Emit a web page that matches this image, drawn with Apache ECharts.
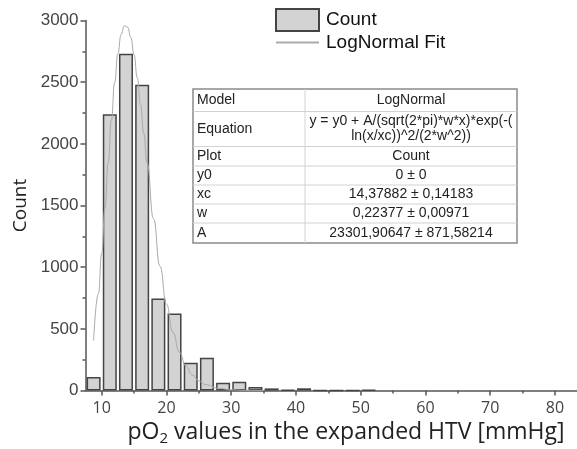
<!DOCTYPE html>
<html><head><meta charset="utf-8">
<script src="https://cdn.jsdelivr.net/npm/echarts@6/dist/echarts.min.js"></script>
<style>html,body{margin:0;padding:0;background:#fff}#c{width:577px;height:449px}</style>
</head><body><div id="c"></div>
<script>
// ---- data ----
const binCenters = [8.75, 11.25, 13.75, 16.25, 18.75, 21.25, 23.75, 26.25, 28.75, 31.25, 33.75, 36.25, 38.75, 41.25, 43.75, 46.25, 48.75, 51.25];
const counts     = [110, 2240, 2730, 2480, 745, 625, 225, 265, 62, 70, 28, 17, 6, 18, 0, 0, 0, 5];
const fitX = [8.75, 9.5, 10, 10.5, 11, 11.5, 12, 12.5, 13, 13.5, 14, 14.5, 15, 15.5, 16, 16.5, 17, 18, 19, 20, 21, 22, 23, 24, 25, 26, 28, 30, 32, 35];
const fitY = [404, 786, 1113, 1475, 1845, 2195, 2497, 2732, 2887, 2957, 2946, 2863, 2721, 2534, 2317, 2084, 1847, 1394, 1007, 700, 472, 310, 199, 126, 78, 48, 18, 6, 2, 0];
const xMajorTicks = [10, 20, 30, 40, 50, 60, 70, 80];
const xMinorTicks = [15, 25, 35, 45, 55, 65, 75];
const seriesNames = ['Count', 'LogNormal Fit'];
const xTitleParts = ['pO', '2', ' values in the expanded HTV [mmHg]'];
const yTitle = 'Count';
const tableLabels = ['Model', 'Equation', 'Plot', 'y0', 'xc', 'w', 'A'];
const tableValues = ['LogNormal', 'y = y0 + A/(sqrt(2*pi)*w*x)*exp(-(\nln(x/xc))^2/(2*w^2))', 'Count', '0 ± 0', '14,37882 ± 0,14183', '0,22377 ± 0,00971', '23301,90647 ± 871,58214'];

// ---- layout / style ----
const axisColor = '#555';
const T = { left: 193, right: 517, mid: 305, rows: [89, 111.5, 146.5, 166, 185, 204, 223, 243] };
const graphics = [];
graphics.push({ type: 'rect', shape: { x: T.left, y: T.rows[0], width: T.right - T.left, height: T.rows[T.rows.length - 1] - T.rows[0] },
  style: { fill: '#fff', stroke: '#8a8a8a', lineWidth: 1.5 }, z: 10 });
for (let i = 1; i < T.rows.length - 1; i++) {
  graphics.push({ type: 'line', shape: { x1: T.left, y1: T.rows[i], x2: T.right, y2: T.rows[i] }, style: { stroke: '#d2d2d2', lineWidth: 1 }, z: 11 });
}
graphics.push({ type: 'line', shape: { x1: T.mid, y1: T.rows[0], x2: T.mid, y2: T.rows[T.rows.length - 1] }, style: { stroke: '#d2d2d2', lineWidth: 1 }, z: 11 });
tableLabels.forEach((lab, i) => {
  const yc = (T.rows[i] + T.rows[i + 1]) / 2;
  graphics.push({ type: 'text', x: T.left + 4, y: yc, z: 12,
    style: { text: lab, fill: '#222', font: '14px "Liberation Sans", Arial', align: 'left', verticalAlign: 'middle' } });
  graphics.push({ type: 'text', x: (T.mid + T.right) / 2, y: yc, z: 12,
    style: { text: tableValues[i], fill: '#222', font: '14px "Liberation Sans", Arial', align: 'center', verticalAlign: 'middle', lineHeight: 15 } });
});
graphics.push({ type: 'text', x: 346, y: 432, z: 12,
  style: { text: '{a|' + xTitleParts[0] + '}{s|' + xTitleParts[1] + '}{a|' + xTitleParts[2] + '}', align: 'center', verticalAlign: 'middle',
    rich: { a: { fontSize: 23, fontFamily: 'Open Sans', fill: '#222', lineHeight: 28 },
            s: { fontSize: 15, fontFamily: 'Open Sans', fill: '#222', lineHeight: 26, verticalAlign: 'bottom' } } } });

const chart = echarts.init(document.getElementById('c'), null, { renderer: 'canvas' });
chart.setOption({
  animation: false,
  backgroundColor: '#fff',
  grid: { left: 85.5, right: 0, top: 20.5, bottom: 58.5, containLabel: false },
  legend: {
    orient: 'vertical', left: 275, top: 8, padding: 0, itemWidth: 43, itemHeight: 22, itemGap: 1,
    data: [{ name: seriesNames[0], icon: 'rect' }, { name: seriesNames[1], itemStyle: { opacity: 0 } }],
    textStyle: { fontSize: 19, color: '#111', fontFamily: '"Liberation Sans", Arial', padding: [0, 0, 0, 2] }
  },
  xAxis: [{
    type: 'value', min: 7.5, max: 83.4, position: 'bottom',
    axisLine: { show: true, lineStyle: { color: axisColor, width: 1.5 } },
    axisTick: { show: true, customValues: xMajorTicks, length: 5, lineStyle: { color: axisColor, width: 1.5 } },
    axisLabel: { customValues: xMajorTicks, fontSize: 16, color: '#444', fontFamily: 'Open Sans', margin: 10 },
    splitLine: { show: false }
  }, {
    type: 'value', min: 7.5, max: 83.4, position: 'bottom',
    axisLine: { show: false },
    axisTick: { show: true, customValues: xMinorTicks, length: 3, lineStyle: { color: axisColor, width: 1.5 } },
    axisLabel: { show: false },
    splitLine: { show: false }
  }],
  yAxis: {
    type: 'value', min: 0, max: 3000, interval: 500,
    name: yTitle, nameLocation: 'middle', nameGap: 50,
    nameTextStyle: { fontSize: 19, color: '#222', fontFamily: 'Open Sans' },
    axisLine: { show: true, lineStyle: { color: axisColor, width: 1.5 } },
    axisTick: { show: true, length: 5, lineStyle: { color: axisColor, width: 1.5 } },
    minorTick: { show: true, splitNumber: 2, length: 3, lineStyle: { color: axisColor, width: 1.5 } },
    axisLabel: { fontSize: 17, color: '#444', fontFamily: '"Liberation Sans", Arial', margin: 7, formatter: v => String(v) },
    splitLine: { show: false }
  },
  series: [{
    name: seriesNames[0], type: 'bar', xAxisIndex: 0,
    data: binCenters.map((x, i) => [x, counts[i]]),
    barWidth: 14,
    itemStyle: { color: '#d3d3d3', borderColor: '#444', borderWidth: 1.5 }
  }, {
    name: seriesNames[1], type: 'line', xAxisIndex: 0,
    data: fitX.map((x, i) => [x, fitY[i]]),
    smooth: true, smoothMonotone: 'x', symbol: 'none', showSymbol: false,
    lineStyle: { color: '#aaaaaa', width: 1 }, itemStyle: { color: '#aaaaaa' }
  }],
  graphic: graphics
});
</script></body></html>
